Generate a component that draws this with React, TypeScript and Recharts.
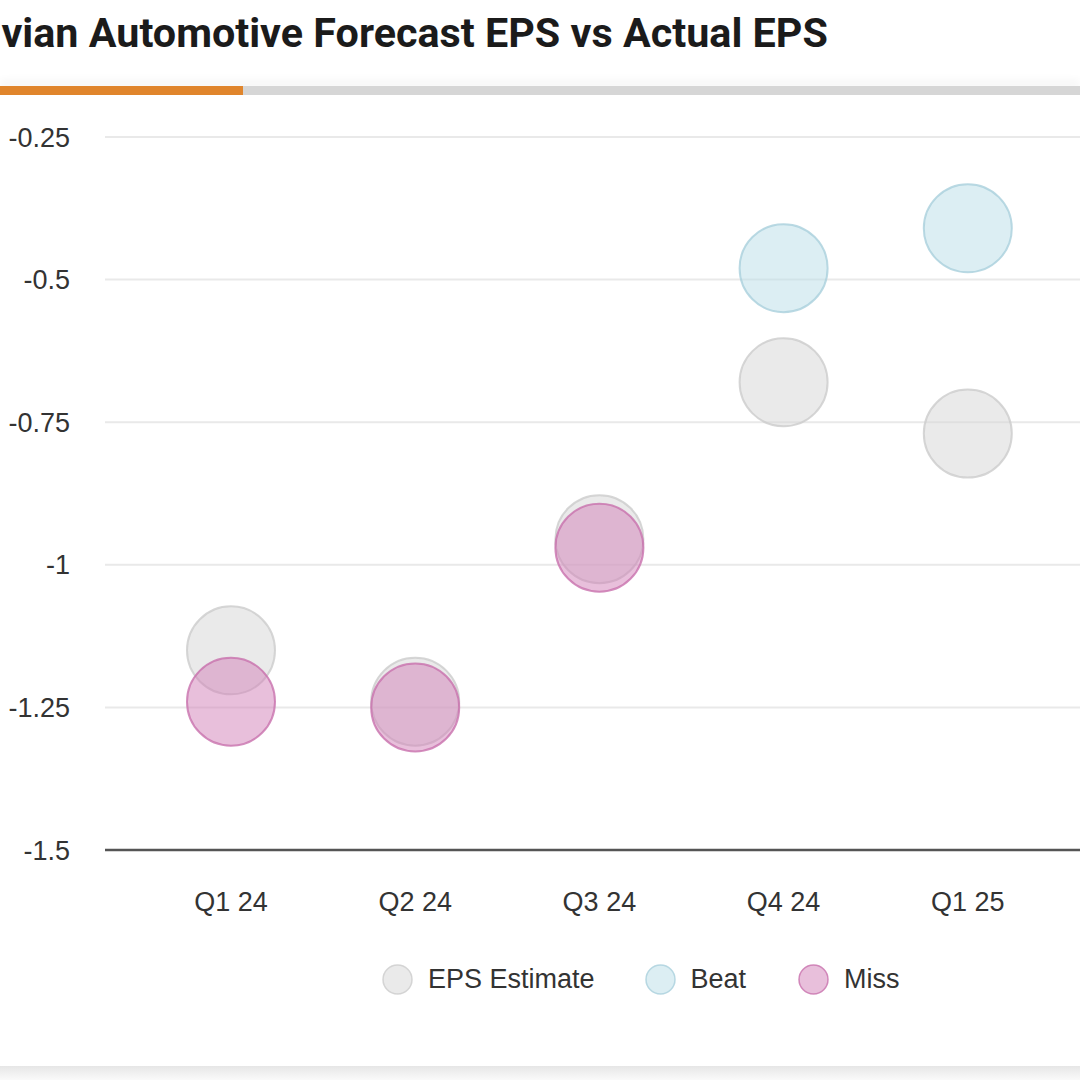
import React from "react";
import { CartesianGrid, Scatter, ScatterChart, XAxis, YAxis } from "recharts";

const quarters = ["Q1 24", "Q2 24", "Q3 24", "Q4 24", "Q1 25"];
const epsEstimate = [-1.15, -1.24, -0.955, -0.68, -0.77];
const epsActual = [-1.24, -1.25, -0.97, -0.48, -0.41];
const yTicks = [-1.5, -1.25, -1, -0.75, -0.5, -0.25];

const estimatePts = epsEstimate.map((y, i) => ({ x: i, y }));
const beatPts = epsActual
  .map((y, i) => ({ x: i, y }))
  .filter((p) => p.y >= epsEstimate[p.x]);
const missPts = epsActual
  .map((y, i) => ({ x: i, y }))
  .filter((p) => p.y < epsEstimate[p.x]);

const colors = {
  estimate: { fill: "#d6d6d6", stroke: "#cccccc" },
  beat: { fill: "#b9dde7", stroke: "#a9d0dc" },
  miss: { fill: "#d27fb8", stroke: "#c870ac" },
};

const font = "'Liberation Sans', Arial, sans-serif";

const bubble = (c: { fill: string; stroke: string }) => (props: any) => (
  <circle
    cx={props.cx}
    cy={props.cy}
    r={44}
    fill={c.fill}
    fillOpacity={0.5}
    stroke={c.stroke}
    strokeOpacity={0.8}
    strokeWidth={2}
  />
);

const legendItems = [
  { label: "EPS Estimate", c: colors.estimate, gap: 0 },
  { label: "Beat", c: colors.beat, gap: 50 },
  { label: "Miss", c: colors.miss, gap: 52 },
];

export default function App() {
  return (
    <div
      style={{
        position: "fixed",
        left: 0,
        top: 0,
        width: 1080,
        height: 1080,
        overflow: "hidden",
        background: "#fff",
      }}
    >
      <div
        style={{
          position: "absolute",
          left: -36,
          top: 12,
          fontFamily: "Roboto, sans-serif",
          fontWeight: 700,
          fontSize: 41.3,
          lineHeight: "42px",
          color: "#1b1b1b",
          whiteSpace: "nowrap",
        }}
      >
        Rivian Automotive Forecast EPS vs Actual EPS
      </div>
      <div
        style={{
          position: "absolute",
          left: 0,
          top: 86,
          width: 1080,
          height: 9,
          background: "#d6d6d6",
          boxShadow: "0 -6px 8px rgba(0,0,0,0.04)",
        }}
      />
      <div
        style={{
          position: "absolute",
          left: 0,
          top: 86,
          width: 243,
          height: 9,
          background: "#e0852c",
        }}
      />
      <div style={{ position: "absolute", left: 0, top: 0 }}>
        <ScatterChart
          width={1160}
          height={940}
          margin={{ top: 137, right: 8, bottom: 0, left: 0 }}
        >
          <CartesianGrid vertical={false} stroke="#e9e9e9" strokeWidth={2} />
          <XAxis
            type="number"
            dataKey="x"
            domain={[-0.684, 5]}
            ticks={[0, 1, 2, 3, 4]}
            tickFormatter={(v: number) => quarters[v] ?? ""}
            height={90}
            tickSize={0}
            tickMargin={42}
            tickLine={false}
            axisLine={{ stroke: "#555", strokeWidth: 2.5 }}
            tick={{ fontSize: 27, fill: "#333", fontFamily: font }}
          />
          <YAxis
            type="number"
            dataKey="y"
            domain={[-1.5, -0.25]}
            ticks={yTicks}
            width={105}
            tickSize={0}
            tickMargin={35}
            tickLine={false}
            axisLine={false}
            tick={{ fontSize: 27, fill: "#333", fontFamily: font }}
          />
          <Scatter
            name="EPS Estimate"
            data={estimatePts}
            shape={bubble(colors.estimate)}
            isAnimationActive={false}
          />
          <Scatter name="Beat" data={beatPts} shape={bubble(colors.beat)} isAnimationActive={false} />
          <Scatter name="Miss" data={missPts} shape={bubble(colors.miss)} isAnimationActive={false} />
        </ScatterChart>
      </div>
      <div
        style={{
          position: "absolute",
          left: 382,
          top: 962,
          height: 34,
          display: "flex",
          alignItems: "center",
          fontFamily: font,
          fontSize: 27,
          color: "#333",
        }}
      >
        {legendItems.map((it) => (
          <div
            key={it.label}
            style={{ display: "flex", alignItems: "center", marginLeft: it.gap }}
          >
            <svg width={31} height={31} style={{ marginRight: 15 }}>
              <circle
                cx={15.5}
                cy={15.5}
                r={14.5}
                fill={it.c.fill}
                fillOpacity={0.5}
                stroke={it.c.stroke}
                strokeOpacity={0.8}
                strokeWidth={1.5}
              />
            </svg>
            <span>{it.label}</span>
          </div>
        ))}
      </div>
      <div
        style={{
          position: "absolute",
          left: 0,
          top: 1066,
          width: 1080,
          height: 14,
          background: "linear-gradient(#e6e6e6, #fafafa)",
        }}
      />
    </div>
  );
}
